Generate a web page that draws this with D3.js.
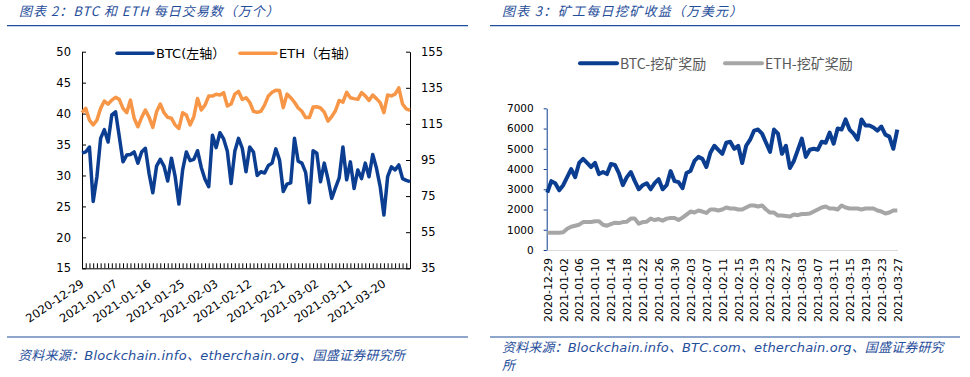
<!DOCTYPE html>
<html>
<head>
<meta charset="utf-8">
<script src="https://cdn.jsdelivr.net/npm/d3@7"></script>
<style>
body { margin: 0; background: #fff; }
svg { display: block; font-family: "DejaVu Sans", "Noto Sans CJK SC", sans-serif; }
</style>
</head>
<body>
<svg id="chart" width="970" height="377"></svg>
<script>
// daily categories 2020-12-29 .. 2021-03-27
const days = d3.timeDay.range(new Date(2020, 11, 29), new Date(2021, 2, 28)).map(d3.timeFormat("%Y-%m-%d"));

// chart 2: daily transactions (10k)
const btcTx = [33.6,33.8,34.6,25.8,29.8,36.0,37.4,35.4,39.8,40.3,36.3,32.2,33.3,33.4,33.8,32.0,33.8,34.4,30.3,27.2,
  31.5,32.6,31.5,29.1,32.8,29.8,25.4,30.9,33.8,32.4,32.6,34.0,31.3,29.4,28.2,36.5,34.5,36.9,35.9,33.9,
  28.7,33.9,36.0,34.4,30.6,34.6,33.8,30.0,30.6,30.4,31.6,32.0,34.3,32.5,27.4,28.6,28.8,36.0,32.3,32.0,
  30.5,25.6,34.0,33.6,29.0,32.0,29.4,26.3,28.0,29.6,34.6,29.3,32.2,27.9,30.9,29.5,32.0,29.8,33.4,31.2,
  28.2,23.6,29.8,31.4,30.9,31.7,29.5,29.2,29.0];
const ethTx = [121.2,123.6,117.1,114.4,117.1,123.6,127.7,126.0,128.2,129.7,128.6,123.6,121.2,128.2,118.1,113.4,118.6,122.7,118.6,113.1,
  121.7,126.0,121.2,118.6,118.1,114.4,112.5,121.2,119.9,114.4,119.0,129.1,122.7,125.4,130.4,130.4,131.4,131.0,132.3,124.9,
  126.0,131.5,133.0,128.5,129.5,127.0,122.0,121.4,122.0,125.5,130.5,132.5,133.7,133.5,124.0,131.5,129.5,127.0,123.8,122.0,
  118.5,118.5,124.3,124.5,123.8,121.5,116.5,119.0,122.3,128.0,127.0,132.5,129.5,129.0,128.6,132.3,130.5,128.0,131.0,129.0,
  126.8,121.2,131.0,130.5,131.5,135.0,126.0,123.3,122.5];
const txLeftTicks = [15, 20, 25, 30, 35, 40, 45, 50];
const txRightTicks = [35, 55, 75, 95, 115, 135, 155];
const txDateLabels = ["2020-12-29","2021-01-07","2021-01-16","2021-01-25","2021-02-03","2021-02-12","2021-02-21","2021-03-02","2021-03-11","2021-03-20"];

// chart 3: miner rewards (10k USD)
const btcReward = [2830,3400,3300,2950,3200,3600,4000,3600,4300,4500,4300,4100,4300,3750,3850,3750,4250,4200,3800,3200,
  3600,3850,3400,3000,3200,3300,3000,3300,3500,3000,3200,3900,3400,3350,3050,3800,3900,4400,4600,4500,
  4100,4800,5150,4950,4750,5300,5350,5000,5150,4300,5150,5450,5900,5950,5750,5300,4850,5950,5750,4750,
  5150,4050,4400,4950,5500,4600,4950,5000,4950,5350,5300,5800,5250,6000,5950,6450,5950,5750,5450,6450,
  6150,6150,6050,5900,6100,5700,5600,5000,5950];
const ethReward = [850,850,850,850,880,1050,1150,1200,1250,1380,1380,1380,1420,1420,1250,1200,1280,1350,1330,1380,
  1400,1550,1550,1300,1380,1400,1550,1480,1530,1450,1550,1580,1580,1480,1600,1750,1900,1850,1950,1900,
  1830,2000,2000,1950,2000,2100,2050,2050,2000,2000,2100,2200,2200,2150,2200,2000,1850,1850,1700,1700,
  1680,1650,1750,1720,1780,1780,1800,1900,2000,2100,2150,2050,2050,2000,2200,2100,2050,2050,2050,2000,
  2050,2050,2050,1950,1900,1800,1850,1950,1950];
const rewardTicks = [0, 1000, 2000, 3000, 4000, 5000, 6000, 7000];
const rewardDateLabels = ["2020-12-29","2021-01-02","2021-01-06","2021-01-10","2021-01-14","2021-01-18","2021-01-22","2021-01-26",
  "2021-01-30","2021-02-03","2021-02-07","2021-02-11","2021-02-15","2021-02-19","2021-02-23","2021-02-27","2021-03-03",
  "2021-03-07","2021-03-11","2021-03-15","2021-03-19","2021-03-23","2021-03-27"];

const navy = "#0b3d91";
const orange = "#f79646";
const grey = "#a6a6a6";
const titleBlue = "#1f4e9a";

const svg = d3.select("#chart");

// ---- headers / footers
function frame(x0, x1, title, spacing) {
    svg.append("line").attr("x1", x0).attr("x2", x1).attr("y1", 25.7).attr("y2", 25.7)
        .attr("stroke", titleBlue).attr("stroke-width", 1.2);
    svg.append("line").attr("x1", x0).attr("x2", x1).attr("y1", 337).attr("y2", 337)
        .attr("stroke", titleBlue).attr("stroke-width", 1.2);
    svg.append("text").attr("x", x0 + 12).attr("y", 16)
        .attr("fill", titleBlue).attr("font-size", 13).attr("font-style", "italic")
        .attr("letter-spacing", spacing)
        .attr("font-family", "'Noto Sans CJK SC', sans-serif")
        .text(title);
}
frame(7, 468, "图表 2：BTC 和 ETH 每日交易数（万个）", 1);
frame(490, 960, "图表 3：矿工每日挖矿收益（万美元）", 1.3);

svg.append("text").attr("x", 18).attr("y", 360).attr("fill", titleBlue)
    .attr("font-size", 13).attr("font-style", "italic").attr("letter-spacing", 0.25)
    .text("资料来源：Blockchain.info、etherchain.org、国盛证券研究所");
svg.append("text").attr("x", 502).attr("y", 352).attr("fill", titleBlue)
    .attr("font-size", 13).attr("font-style", "italic").attr("letter-spacing", 0.15)
    .text("资料来源：Blockchain.info、BTC.com、etherchain.org、国盛证券研究");
svg.append("text").attr("x", 502).attr("y", 370).attr("fill", titleBlue)
    .attr("font-size", 13).attr("font-style", "italic")
    .text("所");

function styleAxis(g, size, color) {
    g.attr("font-family", null).attr("font-size", size);
    g.select(".domain").attr("stroke", color);
    g.selectAll(".tick line").attr("stroke", color);
    g.selectAll(".tick text").attr("fill", "#000");
}

// ---- chart 2
const x2 = d3.scalePoint().domain(days).range([82, 410]);
const yL = d3.scaleLinear().domain([15, 50]).range([268.3, 51.7]);
const yR = d3.scaleLinear().domain([35, 155]).range([268.3, 51.7]);

svg.append("g").attr("transform", "translate(82,0)")
    .call(d3.axisLeft(yL).tickValues(txLeftTicks).tickSize(-4).tickSizeOuter(0).tickPadding(11))
    .call(g => styleAxis(g, 11.5, "#000"));
svg.append("g").attr("transform", "translate(410,0)")
    .call(d3.axisRight(yR).tickValues(txRightTicks).tickSize(-4).tickSizeOuter(0).tickPadding(11))
    .call(g => styleAxis(g, 11.5, "#000"));

const txLabelSet = new Set(txDateLabels);
svg.append("g").attr("transform", "translate(0,268.3)")
    .call(d3.axisBottom(x2).tickSize(-5).tickSizeOuter(0).tickFormat(d => txLabelSet.has(d) ? d : ""))
    .call(g => styleAxis(g, 11.5, "#000"))
    .call(g => g.selectAll(".tick text")
        .attr("y", 0).attr("dy", "0.35em")
        .attr("text-anchor", "end")
        .attr("transform", "translate(0,14) rotate(-34)"));

const line2 = (y) => d3.line().x((d, i) => x2(days[i])).y(d => y(d));

svg.append("path").datum(ethTx).attr("d", line2(yR))
    .attr("fill", "none").attr("stroke", orange).attr("stroke-width", 3.5).attr("stroke-linejoin", "round");
svg.append("path").datum(btcTx).attr("d", line2(yL))
    .attr("fill", "none").attr("stroke", navy).attr("stroke-width", 3.5).attr("stroke-linejoin", "round");

// legend chart 2
svg.append("line").attr("x1", 117).attr("x2", 153).attr("y1", 53.3).attr("y2", 53.3)
    .attr("stroke", navy).attr("stroke-width", 3.5).attr("stroke-linecap", "round");
svg.append("text").attr("x", 156).attr("y", 58).attr("font-size", 13).text("BTC(左轴）");
svg.append("line").attr("x1", 240).attr("x2", 276).attr("y1", 53.3).attr("y2", 53.3)
    .attr("stroke", orange).attr("stroke-width", 3.5).attr("stroke-linecap", "round");
svg.append("text").attr("x", 279).attr("y", 58).attr("font-size", 13).text("ETH（右轴）");

// ---- chart 3
const x3 = d3.scalePoint().domain(days).range([547.3, 897.3]);
const y3 = d3.scaleLinear().domain([0, 7000]).range([250, 108.3]);
const rewardLabelSet = new Set(rewardDateLabels);

svg.append("g").attr("transform", "translate(0,250)")
    .call(d3.axisBottom(x3).tickSize(0).tickSizeOuter(0).tickFormat(d => rewardLabelSet.has(d) ? d : ""))
    .call(g => styleAxis(g, 11, "#d9d9d9"))
    .call(g => g.selectAll(".tick text")
        .attr("y", 0).attr("x", -8).attr("dy", "0.35em")
        .attr("text-anchor", "end")
        .attr("transform", "rotate(-90)"));
svg.append("g").attr("transform", "translate(546.7,0)")
    .call(d3.axisLeft(y3).tickValues(rewardTicks).tickFormat(d3.format("d")).tickSize(3).tickSizeOuter(0).tickPadding(10))
    .call(g => styleAxis(g, 10.5, navy));

const line3 = d3.line().x((d, i) => x3(days[i])).y(d => y3(d));
svg.append("path").datum(ethReward).attr("d", line3)
    .attr("fill", "none").attr("stroke", grey).attr("stroke-width", 4).attr("stroke-linejoin", "round");
svg.append("path").datum(btcReward).attr("d", line3)
    .attr("fill", "none").attr("stroke", navy).attr("stroke-width", 4).attr("stroke-linejoin", "round");

// legend chart 3
svg.append("line").attr("x1", 580).attr("x2", 617).attr("y1", 63.3).attr("y2", 63.3)
    .attr("stroke", navy).attr("stroke-width", 4).attr("stroke-linecap", "round");
svg.append("text").attr("x", 620).attr("y", 68.5).attr("font-size", 14).attr("fill", "#595959")
    .attr("font-family", "'Noto Sans CJK SC', sans-serif").text("BTC-挖矿奖励");
svg.append("line").attr("x1", 725).attr("x2", 762).attr("y1", 63.3).attr("y2", 63.3)
    .attr("stroke", grey).attr("stroke-width", 4).attr("stroke-linecap", "round");
svg.append("text").attr("x", 765).attr("y", 68.5).attr("font-size", 14).attr("fill", "#595959")
    .attr("font-family", "'Noto Sans CJK SC', sans-serif").text("ETH-挖矿奖励");
</script>
</body>
</html>
